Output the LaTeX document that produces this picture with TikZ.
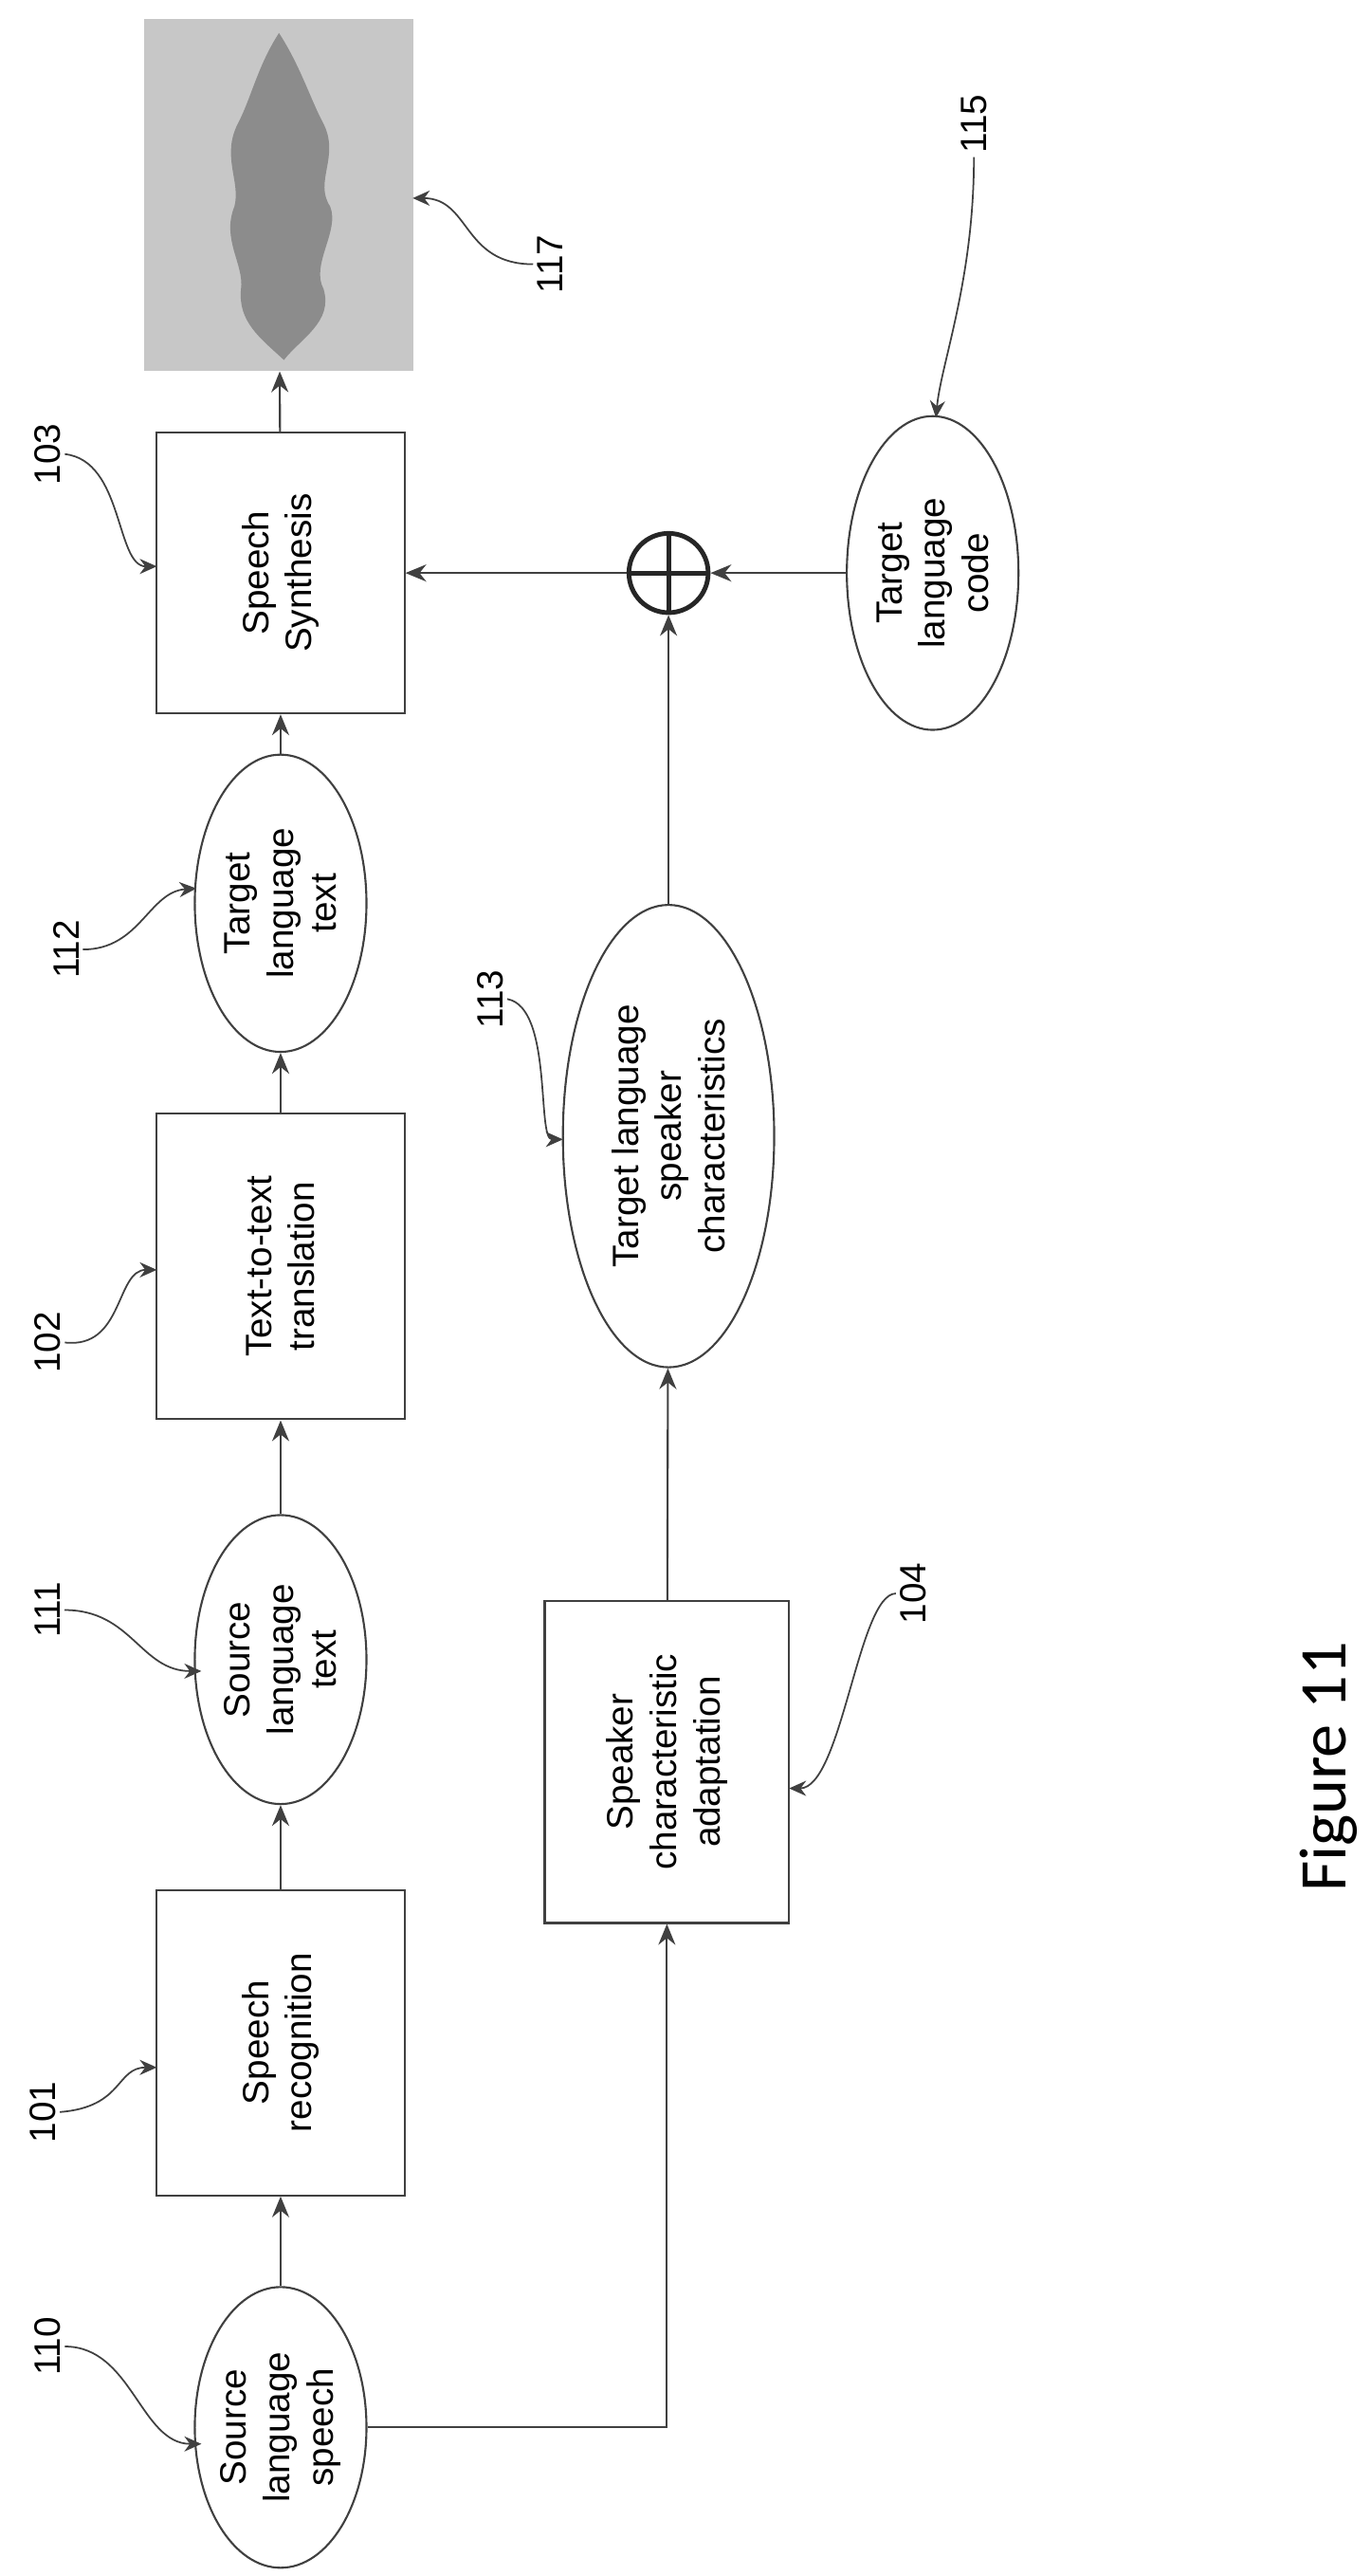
\documentclass[tikz,border=0pt]{standalone}
\usepackage{fontspec}
\setmainfont{Liberation Sans}
\newfontfamily\figfont{Carlito}
\usetikzlibrary{shapes.geometric,arrows.meta}
\begin{document}
\begin{tikzpicture}[x=0.1741mm,y=-0.1741mm,
  line/.style={draw=black!75,line width=0.6pt},
  arr/.style={line,-{Stealth[length=2.2mm,width=1.8mm]}},
  lead/.style={draw=black!75,line width=0.5pt,-{Stealth[length=1.8mm,width=1.6mm]}},
  box/.style={line,rectangle,rotate=90,align=center,font=\fontsize{11}{13}\selectfont,inner sep=0pt},
  oval/.style={line,ellipse,rotate=90,align=center,font=\fontsize{11}{13}\selectfont,inner sep=0pt},
  num/.style={rotate=90,font=\fontsize{11}{13}\selectfont,inner sep=1pt}]
\useasboundingbox (0,0) rectangle (830,1560);
% waveform
\node[draw=none,fill=black!22,minimum width={213*0.1741mm},minimum height={163*0.1741mm},inner sep=0pt,rotate=90] (w117) at (169,118) {};
\fill[black!45] (169,20) .. controls (182,40) and (188,60) .. (196,75) .. controls (206,95) and (190,110) .. (200,125)
  .. controls (206,140) and (188,160) .. (196,175) .. controls (202,195) and (182,205) .. (172,218)
  .. controls (158,205) and (144,195) .. (146,175) .. controls (148,160) and (134,145) .. (142,125)
  .. controls (146,110) and (134,95) .. (144,75) .. controls (152,60) and (156,40) .. (169,20) -- cycle;
% main row
\node[box,minimum width={170*0.1741mm},minimum height={150*0.1741mm}] (b103) at (170,347) {Speech\\Synthesis};
\node[oval,minimum width={180*0.1741mm},minimum height={104*0.1741mm}] (e112) at (170,547) {Target\\language\\text};
\node[box,minimum width={185*0.1741mm},minimum height={150*0.1741mm}] (b102) at (170,767) {Text-to-text\\translation};
\node[oval,minimum width={175*0.1741mm},minimum height={104*0.1741mm}] (e111) at (170,1005) {Source\\language\\text};
\node[box,minimum width={185*0.1741mm},minimum height={150*0.1741mm}] (b101) at (170,1237) {Speech\\recognition};
\node[oval,minimum width={170*0.1741mm},minimum height={104*0.1741mm}] (e110) at (170,1470) {Source\\language\\speech};
% second row
\node[box,minimum width={195*0.1741mm},minimum height={148*0.1741mm}] (b104) at (404,1067) {Speaker\\characteristic\\adaptation};
\node[oval,minimum width={280*0.1741mm},minimum height={128*0.1741mm}] (e113) at (405,688) {Target language\\speaker\\characteristics};
\node[line,circle,line width=1.4pt,draw=black!85,minimum size={48*0.1741mm},inner sep=0pt] (plus) at (405,347) {};
\draw[line width=1.4pt,black!85] (plus.north) -- (plus.south) (plus.west) -- (plus.east);
\node[oval,minimum width={190*0.1741mm},minimum height={104*0.1741mm}] (e115) at (565,347) {Target\\language\\code};
% connectors
\draw[arr] (e110) -- (b101);
\draw[arr] (b101) -- (e111);
\draw[arr] (e111) -- (b102);
\draw[arr] (b102) -- (e112);
\draw[arr] (e112) -- (b103);
\draw[arr] (b103) -- (w117);
\draw[arr] (e110.south) -| (b104.west);
\draw[arr] (b104) -- (e113);
\draw[arr] (e113) -- (plus);
\draw[arr] (e115) -- (plus);
\draw[arr] (plus) -- (b103);
% reference labels
\node[num] (n110) at (29,1421) {110};
\node[num] (n101) at (26,1279) {101};
\node[num] (n111) at (29,975) {111};
\node[num] (n102) at (29,813) {102};
\node[num] (n112) at (40,575) {112};
\node[num] (n103) at (29,275) {103};
\node[num] (n117) at (333,160) {117};
\node[num] (n115) at (590,75) {115};
\node[num] (n113) at (297,605) {113};
\node[num] (n104) at (553,965) {104};
\coordinate (t110) at (122,1480);
\coordinate (t101) at (95,1252);
\coordinate (t111) at (122,1012);
\coordinate (t112) at (119,538);
\coordinate (t102) at (95,769);
\coordinate (t103) at (95,343);
\coordinate (t117) at (250,120);
\coordinate (t115) at (567,253);
\coordinate (t113) at (341,690);
\coordinate (t104) at (478,1083);
\draw[lead] (n110.south) .. controls (80,1421) and (85,1480) .. (t110);
\draw[lead] (n101.south) .. controls (75,1276) and (70,1252) .. (t101);
\draw[lead] (n111.south) .. controls (80,975) and (85,1012) .. (t111);
\draw[lead] (n102.south) .. controls (75,817) and (70,769) .. (t102);
\draw[lead] (n112.south) .. controls (85,575) and (90,540) .. (t112);
\draw[lead] (n103.south) .. controls (75,279) and (70,343) .. (t103);
\draw[lead] (n117.north) .. controls (280,160) and (285,120) .. (t117);
\draw[lead] (n115.west) .. controls (590,170) and (570,220) .. (t115);
\draw[lead] (n113.south) .. controls (335,610) and (325,690) .. (t113);
\draw[lead] (n104.north) .. controls (520,965) and (510,1083) .. (t104);
\node[rotate=90,font=\figfont\fontsize{20}{24}\selectfont] (fig) at (805,1070) {Figure 11};
\end{tikzpicture}
\end{document}
